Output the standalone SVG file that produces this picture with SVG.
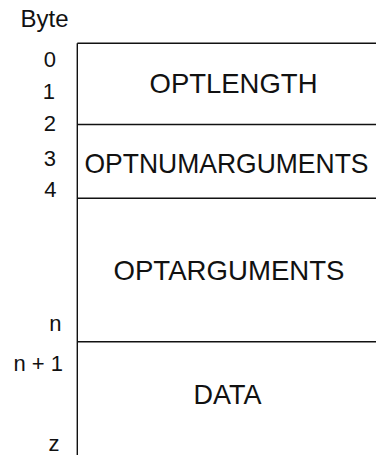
<svg xmlns="http://www.w3.org/2000/svg" width="376" height="455" viewBox="0 0 376 455">
  <style>
    .rule { stroke: #111; stroke-width: 1.4; fill: none; }
    .field { font-family: "Liberation Sans", Arial, sans-serif; font-size: 28px; fill: #111; text-anchor: middle; }
    .offset { font-family: "Liberation Sans", Arial, sans-serif; font-size: 22px; fill: #111; text-anchor: end; }
    .head { font-family: "Liberation Sans", Arial, sans-serif; font-size: 23px; fill: #111; }
  </style>
  <rect width="376" height="455" fill="#fff"/>

  <!-- byte offset column -->
  <g id="offsets">
    <text class="head" x="20.5" y="27.3" textLength="48" lengthAdjust="spacingAndGlyphs">Byte</text>
    <text class="offset" x="56" y="66.7">0</text>
    <text class="offset" x="55" y="99">1</text>
    <text class="offset" x="56" y="131">2</text>
    <text class="offset" x="56" y="165.7">3</text>
    <text class="offset" x="56.5" y="196.7">4</text>
    <text class="offset" x="61.5" y="330.7">n</text>
    <text class="offset" x="63" y="370.7">n + 1</text>
    <text class="offset" x="59.5" y="450.5">z</text>
  </g>

  <!-- option record fields -->
  <g id="field-optlength">
    <text class="field" x="233.5" y="92.8" textLength="168" lengthAdjust="spacingAndGlyphs">OPTLENGTH</text>
  </g>
  <g id="field-optnumarguments">
    <text class="field" font-size="27" x="226.5" y="172.8" textLength="284" lengthAdjust="spacingAndGlyphs">OPTNUMARGUMENTS</text>
  </g>
  <g id="field-optarguments">
    <text class="field" x="229" y="280.3" textLength="231" lengthAdjust="spacingAndGlyphs">OPTARGUMENTS</text>
  </g>
  <g id="field-data">
    <text class="field" x="227.5" y="403.5" textLength="68" lengthAdjust="spacingAndGlyphs">DATA</text>
  </g>

  <!-- frame and field separators -->
  <g id="connectors">
    <line class="rule" x1="77.3" y1="43.3" x2="77.3" y2="455"/>
    <line class="rule" x1="77.3" y1="43.3" x2="376" y2="43.3"/>
    <line class="rule" x1="77.3" y1="124.5" x2="376" y2="124.5"/>
    <line class="rule" x1="77.3" y1="198.2" x2="376" y2="198.2"/>
    <line class="rule" x1="77.3" y1="341.7" x2="376" y2="341.7"/>
  </g>
</svg>
